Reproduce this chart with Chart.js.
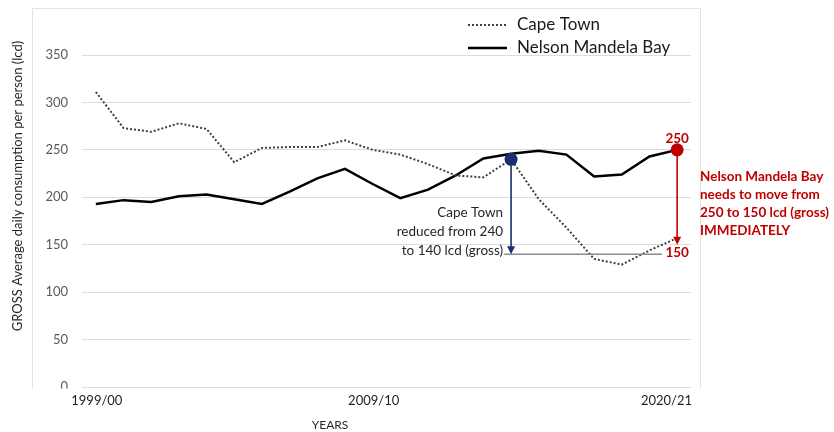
<!DOCTYPE html>
<html>
<head>
<meta charset="utf-8">
<script src="https://cdn.jsdelivr.net/npm/chart.js@4.4.1/dist/chart.umd.min.js"></script>
<style>
  html, body { margin: 0; padding: 0; background: #ffffff; }
  #wrap { width: 834px; height: 432px; }
</style>
</head>
<body>
<div id="wrap"><canvas id="chart" width="834" height="432"></canvas></div>
<script>
// Financial years on the x axis
const years = [
  '1999/00', '2000/01', '2001/02', '2002/03', '2003/04', '2004/05', '2005/06',
  '2006/07', '2007/08', '2008/09', '2009/10', '2010/11', '2011/12', '2012/13',
  '2013/14', '2014/15', '2015/16', '2016/17', '2017/18', '2018/19', '2019/20', '2020/21'
];

// Gross average daily consumption per person (lcd)
const capeTown = [311, 273, 269, 278, 272, 237, 252, 253, 253, 260, 250, 245, 235, 223, 221, 240, 198, 168, 135, 129, 144, 157];
const nelsonMandelaBay = [193, 197, 195, 201, 203, 198, 193, 206, 220, 230, 214, 199, 208, 223, 241, 246, 249, 245, 222, 224, 243, 250];

// Axis ticks
const yMin = 0;
const yMax = 350;
const yStep = 50;
const shownYearLabels = ['1999/00', '2009/10', '2020/21'];

// Call-out values
const capeTownYear = '2014/15';
const capeTownFrom = 240;
const capeTownTo = 140;
const nmbYear = '2020/21';
const nmbFrom = 250;
const nmbTo = 150;

const FONT = 'Lato, "Open Sans", sans-serif';
const NAVY = '#1b2f6e';
const RED = '#c00000';

function arrowDown(ctx, x, y1, y2, color) {
  ctx.save();
  ctx.strokeStyle = color;
  ctx.fillStyle = color;
  ctx.lineWidth = 1.6;
  ctx.beginPath();
  ctx.moveTo(x, y1);
  ctx.lineTo(x, y2 - 7);
  ctx.stroke();
  ctx.beginPath();
  ctx.moveTo(x - 4, y2 - 8);
  ctx.lineTo(x + 4, y2 - 8);
  ctx.lineTo(x, y2);
  ctx.closePath();
  ctx.fill();
  ctx.restore();
}

function dot(ctx, x, y, r, color) {
  ctx.save();
  ctx.fillStyle = color;
  ctx.beginPath();
  ctx.arc(x, y, r, 0, Math.PI * 2);
  ctx.fill();
  ctx.restore();
}

const frameAndNotes = {
  id: 'frameAndNotes',
  beforeDraw(chart) {
    const ctx = chart.ctx;
    ctx.save();
    ctx.fillStyle = '#ffffff';
    ctx.fillRect(0, 0, chart.width, chart.height);
    // chart frame: top, left and right edges
    ctx.strokeStyle = '#e3e3e3';
    ctx.lineWidth = 1;
    ctx.beginPath();
    ctx.moveTo(32.5, 388);
    ctx.lineTo(32.5, 8.5);
    ctx.lineTo(700.5, 8.5);
    ctx.lineTo(700.5, 388);
    ctx.stroke();
    ctx.restore();
  },
  afterDatasetsDraw(chart) {
    const ctx = chart.ctx;
    const x = chart.scales.x;
    const y = chart.scales.y;

    // Cape Town reduction call-out
    const ci = years.indexOf(capeTownYear);
    const cx = x.getPixelForValue(ci);
    const cyFrom = y.getPixelForValue(capeTownFrom);
    const cyTo = y.getPixelForValue(capeTownTo);
    ctx.save();
    ctx.strokeStyle = '#8c8c8c';
    ctx.lineWidth = 1.5;
    ctx.beginPath();
    ctx.moveTo(x.getPixelForValue(ci - 0.25), cyTo);
    ctx.lineTo(x.getPixelForValue(20.45), cyTo);
    ctx.stroke();
    ctx.restore();
    arrowDown(ctx, cx, cyFrom, cyTo, NAVY);
    dot(ctx, cx, cyFrom, 6.5, NAVY);

    ctx.save();
    ctx.fillStyle = '#262626';
    ctx.font = '13.5px ' + FONT;
    ctx.textAlign = 'right';
    ctx.textBaseline = 'middle';
    ['Cape Town', 'reduced from ' + capeTownFrom, 'to ' + capeTownTo + ' lcd (gross)'].forEach((t, k) => {
      ctx.fillText(t, cx - 8, 213 + k * 18.7);
    });
    ctx.restore();

    // Nelson Mandela Bay target call-out
    const ni = years.indexOf(nmbYear);
    const nx = x.getPixelForValue(ni);
    const nyFrom = y.getPixelForValue(nmbFrom);
    const nyTo = y.getPixelForValue(nmbTo);
    arrowDown(ctx, nx, nyFrom, nyTo, RED);
    dot(ctx, nx, nyFrom, 6.5, RED);

    ctx.save();
    ctx.fillStyle = RED;
    ctx.font = 'bold 13.5px ' + FONT;
    ctx.textAlign = 'center';
    ctx.textBaseline = 'middle';
    ctx.fillText(String(nmbFrom), nx, nyFrom - 11);
    ctx.fillText(String(nmbTo), nx, nyTo + 8);
    ctx.textAlign = 'left';
    ['Nelson Mandela Bay', 'needs to move from', nmbFrom + ' to ' + nmbTo + ' lcd (gross)', 'IMMEDIATELY'].forEach((t, k) => {
      ctx.fillText(t, 700, 177 + k * 18);
    });
    ctx.restore();
  },
  afterDraw(chart) {
    const ctx = chart.ctx;
    const x = chart.scales.x;
    const area = chart.chartArea;

    // lower edge of the plot clips the y labels
    ctx.save();
    ctx.fillStyle = '#ffffff';
    ctx.fillRect(34, area.bottom + 1.5, area.left - 36, 12);
    ctx.restore();

    // x tick labels, the last one kept inside the plot
    ctx.save();
    ctx.fillStyle = '#1f1f1f';
    ctx.font = '13px ' + FONT;
    ctx.textBaseline = 'middle';
    ctx.textAlign = 'center';
    shownYearLabels.forEach((lab) => {
      const i = years.indexOf(lab);
      let px = x.getPixelForValue(i);
      const w = ctx.measureText(lab).width;
      if (px + w / 2 > area.right) px = area.right - w / 2;
      ctx.fillText(lab, px + 1, 401);
    });
    // axis titles
    ctx.fillStyle = '#262626';
    ctx.font = '12px ' + FONT;
    ctx.fillText('YEARS', 330, 425);
    ctx.translate(18, 186);
    ctx.rotate(-Math.PI / 2);
    ctx.font = '13px ' + FONT;
    ctx.fillText('GROSS Average daily consumption per person (lcd)', 0, 0);
    ctx.restore();

    // legend
    ctx.save();
    ctx.strokeStyle = '#404040';
    ctx.lineWidth = 2;
    ctx.setLineDash([2, 2]);
    ctx.beginPath();
    ctx.moveTo(468, 25);
    ctx.lineTo(507, 25);
    ctx.stroke();
    ctx.setLineDash([]);
    ctx.strokeStyle = '#000000';
    ctx.lineWidth = 2.5;
    ctx.beginPath();
    ctx.moveTo(468, 48);
    ctx.lineTo(507, 48);
    ctx.stroke();
    ctx.fillStyle = '#1a1a1a';
    ctx.font = '17px ' + FONT;
    ctx.textAlign = 'left';
    ctx.textBaseline = 'middle';
    ctx.fillText(chart.data.datasets[0].label, 517, 25);
    ctx.fillText(chart.data.datasets[1].label, 517, 48);
    ctx.restore();
  }
};

new Chart(document.getElementById('chart'), {
  type: 'line',
  data: {
    labels: years,
    datasets: [
      {
        label: 'Cape Town',
        data: capeTown,
        borderColor: '#404040',
        borderWidth: 2,
        borderDash: [2, 2],
        pointRadius: 0,
        tension: 0,
        fill: false
      },
      {
        label: 'Nelson Mandela Bay',
        data: nelsonMandelaBay,
        borderColor: '#000000',
        borderWidth: 2.5,
        pointRadius: 0,
        tension: 0,
        fill: false
      }
    ]
  },
  options: {
    responsive: false,
    devicePixelRatio: 1,
    animation: false,
    layout: { padding: { left: 0, top: 55, right: 143, bottom: 0 } },
    plugins: {
      legend: { display: false },
      tooltip: { enabled: false }
    },
    scales: {
      x: {
        type: 'category',
        offset: true,
        grid: { display: false },
        border: { display: false },
        ticks: { display: false },
        afterFit(scale) { scale.height = 45; }
      },
      y: {
        min: yMin,
        max: yMax,
        grid: { color: '#dcdcdc', lineWidth: 1, drawTicks: false },
        border: { display: false },
        ticks: {
          stepSize: yStep,
          color: '#595959',
          padding: 14,
          font: { family: FONT, size: 13 }
        },
        afterFit(scale) { scale.width = 82; }
      }
    }
  },
  plugins: [frameAndNotes]
});
</script>
</body>
</html>
